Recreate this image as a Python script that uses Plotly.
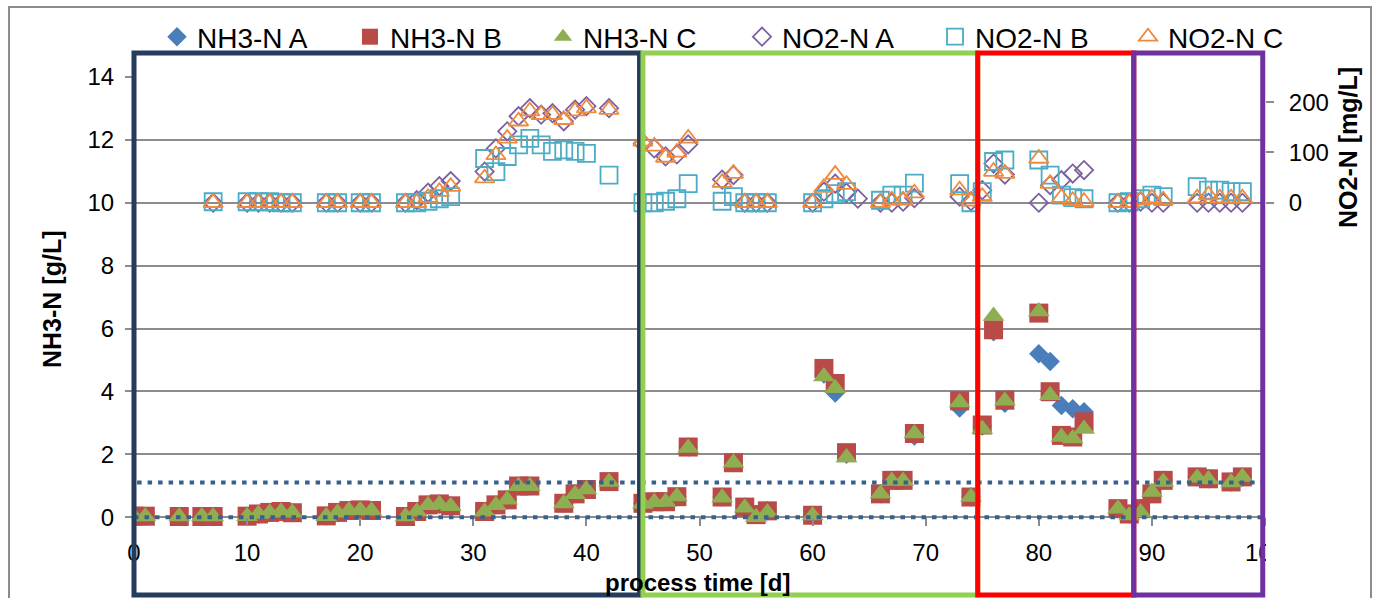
import plotly.graph_objects as go

# ---------------- data ----------------
days = [0, 1, 4, 6, 7, 10, 11, 12, 13, 14, 17, 18, 19, 20, 21, 24, 25, 26, 27, 28,
        31, 32, 33, 34, 35, 36, 37, 38, 39, 40, 42, 45, 46, 47, 48, 49,
        52, 53, 54, 55, 56, 60, 61, 62, 63, 64, 66, 67, 68, 69,
        73, 74, 75, 76, 77, 80, 81, 82, 83, 84, 87, 88, 89, 90, 91, 94, 95, 96, 97, 98]

nh3_a = [0.03, 0.03, 0.02, 0.02, 0.02, 0.03, 0.10, 0.15, 0.18, 0.14, 0.04, 0.15, 0.21, 0.23, 0.21,
         0.02, 0.18, 0.39, 0.42, 0.36, 0.18, 0.39, 0.55, 0.99, 0.99, None, None, 0.44, 0.74, 0.88,
         1.13, 0.44, 0.49, 0.49, 0.65, 2.23, 0.64, 1.73, 0.32, 0.08, 0.20, 0.06, 4.55, 3.95, 2.00, None,
         0.74, 1.17, 1.17, 2.58, 3.47, 0.64, 2.90, 5.90, 3.62, 5.20, 4.95, 3.55, 3.45, 3.35,
         0.27, 0.10, 0.27, 0.74, 1.17, 1.28, 1.22, None, 1.12, 1.28]
nh3_b = [0.03, 0.03, 0.02, 0.02, 0.02, 0.03, 0.10, 0.15, 0.18, 0.14, 0.04, 0.15, 0.21, 0.23, 0.21,
         0.02, 0.18, 0.39, 0.42, 0.36, 0.18, 0.39, 0.55, 0.99, 0.99, None, None, 0.44, 0.74, 0.88,
         1.13, 0.44, 0.49, 0.49, 0.65, 2.23, 0.64, 1.73, 0.32, 0.08, 0.20, 0.06, 4.73, 4.25, 2.05, None,
         0.74, 1.17, 1.17, 2.66, 3.70, 0.64, 2.93, 5.96, 3.72, 6.49, 3.99, 2.60, 2.55, 3.03,
         0.27, 0.10, 0.27, 0.74, 1.17, 1.28, 1.22, None, 1.12, 1.28]
nh3_c = [0.02, 0.02, 0.02, 0.02, 0.02, 0.03, 0.10, 0.14, 0.17, 0.14, 0.03, 0.14, 0.21, 0.22, 0.20,
         0.02, 0.17, 0.38, 0.41, 0.35, 0.17, 0.38, 0.55, 0.98, 0.98, None, None, 0.43, 0.73, 0.88,
         1.12, 0.42, 0.47, 0.48, 0.66, 2.20, 0.62, 1.73, 0.30, 0.00, 0.15, 0.05, 4.47, 4.10, 1.90, None,
         0.74, 1.15, 1.15, 2.66, 3.65, 0.64, 2.80, 6.40, 3.70, 6.54, 3.88, 2.55, 2.50, 2.80,
         0.27, 0.05, 0.15, 0.80, 1.12, 1.25, 1.20, None, 1.10, 1.28]

no2_a = [None, None, None, None, 0, 0, 0, 0, 0, 0, 0, 0, None, 0, 0, 0, 5, 20, 33, 43,
         62, 108, 142, 172, 188, 175, 178, 162, 185, 192, 188, 118, 108, 92, 96, 116,
         46, 55, 0, 0, 0, 0, 22, 38, 20, 8, 0, 0, 2, 9,
         12, 3, 25, 78, 56, 0, 35, 45, 58, 65, 0, 0, 2, 0, 0, 0, 0, 0, 0, 0]
no2_b = [None, None, None, None, 2, 2, 2, 2, 0, 0, 0, 0, None, 0, 0, 0, 0, 3, 8, 12,
         88, 62, 92, 115, 128, 115, 102, 105, 102, 98, 55, 0, 0, 3, 8, 38,
         3, 12, 0, 0, 0, 0, 8, 18, 22, None, 5, 15, 15, 39,
         38, 0, 22, 82, 85, 85, 55, 15, 10, 8, 0, 2, 8, 15, 12, 32, 25, 25, 22, 22]
no2_c = [None, None, None, None, 0, 0, 0, 0, 0, 0, 0, 0, None, 0, 0, 0, 0, 10, 22, 32,
         49, 95, 128, 162, 182, 175, 175, 165, 182, 188, 185, 122, 112, 90, 100, 128,
         40, 58, 0, 0, 0, 0, 30, 56, 36, None, 0, 5, 5, 19,
         25, 3, 12, 62, 58, 88, 38, 10, 4, 2, 0, 0, 5, 9, 5, 9, 15, 9, 9, 9]

# process phases (start day, end day) and NH3 target band
phase_days = [(0.0, 44.7), (45.0, 74.6), (74.6, 88.4), (88.4, 99.8)]
nh3_band = (0.0, 1.1)

x_ticks = list(range(0, 101, 10))
y_ticks = list(range(0, 15, 2))
y2_ticks = [0, 100, 200]

# ---------------- style / layout constants ----------------
W, H = 1373, 598
L, R, T, B = 134, 108, 77, 62
PW, PH = W - L - R, H - T - B
X_RANGE = [0, 100]
Y_RANGE = [-0.6, 14]
# secondary axis aligned so that 0 mg/L sits at 10 g/L, 62.5 mg/L per g/L
Y2_RANGE = [(Y_RANGE[0] - 10) * 62.5, (Y_RANGE[1] - 10) * 62.5]

FONT = "Liberation Sans, Arial, sans-serif"
phase_colors = ["#253C5C", "#92D050", "#FF0000", "#7030A0"]


def fx(px):
    return (px - L) / PW


def fy(py):
    return (H - B - py) / PH


def dx(day):
    return (day - X_RANGE[0]) / (X_RANGE[1] - X_RANGE[0])


fig = go.Figure()

fig.add_trace(go.Scatter(x=days, y=nh3_a, mode="markers", name="NH3-N A", legend="legend",
                         marker=dict(symbol="diamond", size=15, color="#4A7EBB", line=dict(width=0))))
fig.add_trace(go.Scatter(x=days, y=nh3_b, mode="markers", name="NH3-N B", legend="legend",
                         marker=dict(symbol="square", size=19, color="#B84A47", line=dict(width=0))))
fig.add_trace(go.Scatter(x=days, y=nh3_c, mode="markers", name="NH3-N C", legend="legend",
                         marker=dict(symbol="triangle-up", size=19, color="#8FAE52", line=dict(width=0))))
fig.add_trace(go.Scatter(x=days, y=no2_a, mode="markers", name="NO2-N A", yaxis="y2", legend="legend2",
                         marker=dict(symbol="diamond-open", size=14, color="#7D60A0", line=dict(width=1.8))))
fig.add_trace(go.Scatter(x=days, y=no2_b, mode="markers", name="NO2-N B", yaxis="y2", legend="legend2",
                         marker=dict(symbol="square-open", size=17, color="#4BACC6", line=dict(width=1.8))))
fig.add_trace(go.Scatter(x=days, y=no2_c, mode="markers", name="NO2-N C", yaxis="y2", legend="legend2",
                         marker=dict(symbol="triangle-up-open", size=17, color="#F08A3C", line=dict(width=1.8))))
# invisible helper trace so the tick-mark axis at y=0 is drawn
fig.add_trace(go.Scatter(x=[None], y=[None], xaxis="x2", showlegend=False, hoverinfo="skip"))

shapes = []
# outer chart border
shapes.append(dict(type="rect", xref="paper", yref="paper", x0=fx(9), x1=fx(1371), y0=fy(620), y1=fy(7),
                   line=dict(color="#8C8C8C", width=2), layer="below"))
# NH3 target band (dotted)
shapes.append(dict(type="rect", xref="x", yref="y", x0=X_RANGE[0], x1=X_RANGE[1],
                   y0=nh3_band[0], y1=nh3_band[1],
                   line=dict(color="#36608E", width=4, dash="4.5px,6px"), layer="above"))
# cover trailing part of last x label (as in the original export)
shapes.append(dict(type="rect", xref="paper", yref="paper", x0=fx(1266), x1=fx(1295), y0=fy(570), y1=fy(538),
                   fillcolor="white", line=dict(width=0), layer="above"))
for (d0, d1), col in zip(phase_days, phase_colors):
    shapes.append(dict(type="rect", xref="paper", yref="paper", x0=dx(d0), x1=dx(d1),
                       y0=fy(595), y1=fy(53), line=dict(color=col, width=5), layer="above"))

annotations = [
    dict(text="<b>NH3-N [g/L]</b>", xref="paper", yref="paper", x=fx(52), y=fy(300), showarrow=False,
         textangle=-90, font=dict(size=25, color="black", family=FONT), xanchor="center", yanchor="middle"),
    dict(text="<b>NO2-N [mg/L]</b>", xref="paper", yref="paper", x=fx(1348), y=fy(148), showarrow=False,
         textangle=-90, font=dict(size=25, color="black", family=FONT), xanchor="center", yanchor="middle"),
    dict(text="<b>process time [d]</b>", xref="paper", yref="paper", x=fx(697), y=fy(582), showarrow=False,
         font=dict(size=24, color="black", family=FONT), xanchor="center", yanchor="middle"),
]

legend_common = dict(orientation="h", xref="container", yref="container", y=1 - 37 / H,
                     xanchor="left", yanchor="middle", font=dict(size=28, family=FONT),
                     entrywidth=148, entrywidthmode="pixels", bgcolor="rgba(0,0,0,0)",
                     traceorder="normal")

fig.update_layout(
    width=W, height=H,
    margin=dict(l=L, r=R, t=T, b=B, pad=0, autoexpand=False),
    paper_bgcolor="white", plot_bgcolor="white",
    font=dict(family=FONT, size=24, color="black"),
    showlegend=True,
    legend=dict(x=157 / W, **legend_common),
    legend2=dict(x=742 / W, **legend_common),
    xaxis=dict(range=X_RANGE, tickvals=x_ticks, showgrid=False, zeroline=False, showline=False,
               ticks="", tickfont=dict(size=24)),
    xaxis2=dict(range=X_RANGE, overlaying="x", anchor="free",
                position=(0 - Y_RANGE[0]) / (Y_RANGE[1] - Y_RANGE[0]),
                tickvals=x_ticks, showticklabels=False, ticks="outside", ticklen=8, tickwidth=2,
                tickcolor="#8C8C8C", showgrid=False, zeroline=False, showline=False),
    yaxis=dict(range=Y_RANGE, tickvals=y_ticks, showgrid=True, gridcolor="#8C8C8C", gridwidth=2,
               zeroline=False, showline=False, ticks="outside", ticklen=8, tickwidth=2,
               tickcolor="#8C8C8C", ticklabelstandoff=6, tickfont=dict(size=24)),
    yaxis2=dict(range=Y2_RANGE, overlaying="y", side="right", tickvals=y2_ticks, showgrid=False,
                zeroline=False, showline=False, ticks="outside", ticklen=8, tickwidth=2,
                tickcolor="#8C8C8C", ticklabelstandoff=10, tickfont=dict(size=24)),
    shapes=shapes,
    annotations=annotations,
)

fig.write_html("out.html")
